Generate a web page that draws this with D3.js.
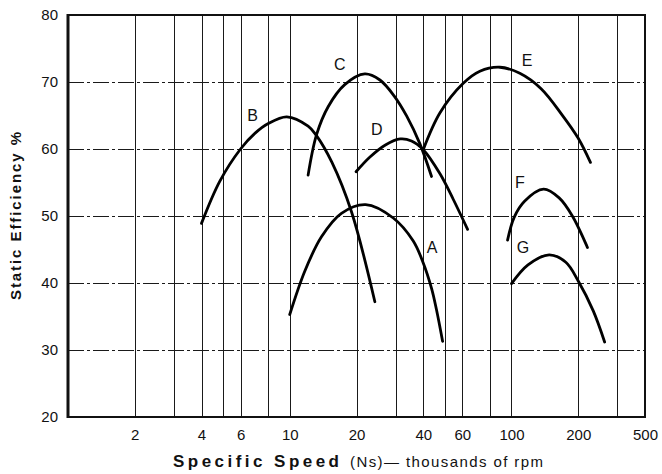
<!DOCTYPE html>
<html>
<head>
<meta charset="utf-8">
<script src="https://cdn.jsdelivr.net/npm/d3@7"></script>
<style>
  body { margin: 0; background: #fff; }
  svg { display: block; font-family: "Liberation Sans", Arial, sans-serif; }
</style>
</head>
<body>
<div id="chart"><svg></svg></div>
<script>
// fan curves, static efficiency vs specific speed
var curveNames = ["A", "B", "C", "D", "E", "F", "G"];

var speedA = [10, 11.7, 13.9, 17.1, 22, 29.3, 36, 40, 43.6, 45.9, 48.9];
var effA   = [35.3, 41.8, 46.9, 50.4, 51.7, 49.7, 46.3, 43.0, 39.2, 36.0, 31.3];

var speedB = [4.0, 4.84, 6, 7, 8, 9.7, 12.1, 13.2, 15.5, 19.0, 24.2];
var effB   = [48.9, 55.2, 60.0, 62.4, 63.8, 64.8, 63.4, 62.0, 58.0, 50.6, 37.2];

var speedC = [12.1, 13.2, 14.9, 17.7, 21.8, 25.5, 29.6, 33.7, 38.6, 43.6];
var effC   = [56.1, 62.1, 66.3, 69.6, 71.2, 70.3, 67.9, 64.9, 60.8, 55.9];

var speedD = [19.9, 23.0, 27, 31.5, 35.4, 40, 47.6, 54.6, 63.4];
var effD   = [56.6, 58.8, 60.6, 61.5, 61.2, 59.9, 56.3, 52.5, 48.0];

var speedE = [40, 47.6, 60.6, 72, 88.7, 109, 136, 169, 200, 227];
var effE   = [59.9, 65.4, 69.8, 71.6, 72.2, 71.3, 69.0, 65.1, 61.6, 58.0];

var speedF = [96, 102.8, 114.5, 139.5, 164, 189, 220];
var effF   = [46.4, 49.8, 52.2, 54.0, 52.7, 49.9, 45.3];

var speedG = [100, 118.7, 147.9, 175.8, 200, 234, 263];
var effG   = [39.9, 42.7, 44.2, 43.1, 40.3, 35.8, 31.2];

// where each letter sits (data units)
var labelSpeed = [43.8, 6.8, 16.8, 24.7, 117.5, 109, 112.7];
var labelEff   = [45.4, 65.1, 72.6, 62.9, 73.3, 55.1, 45.4];

// axes
var xMin = 1, xMax = 400;
var yMin = 20, yMax = 80;
var xTickValues = [2, 4, 6, 10, 20, 40, 60, 100, 200, 400];
var xTickLabels = ["2", "4", "6", "10", "20", "40", "60", "100", "200", "500"];
var yTickValues = [20, 30, 40, 50, 60, 70, 80];
var xGrid = [2, 3, 4, 5, 6, 8, 10, 20, 30, 40, 50, 60, 80, 100, 200, 300];
var yGrid = [30, 40, 50, 60, 70];

var xTitleBold = "Specific Speed";
var xTitleRest = "(Ns)\u2014 thousands of rpm";
var yTitle = "Static Efficiency %";

var series = [
  [speedA, effA], [speedB, effB], [speedC, effC], [speedD, effD],
  [speedE, effE], [speedF, effF], [speedG, effG]
];

var W = 662, H = 474;
var margin = {top: 15, right: 17, bottom: 57, left: 68};

var svg = d3.select("#chart svg").attr("width", W).attr("height", H);

var x = d3.scaleLog().domain([xMin, xMax]).range([margin.left, W - margin.right]);
var y = d3.scaleLinear().domain([yMin, yMax]).range([H - margin.bottom, margin.top]);

var g = svg.append("g");

// grid
g.append("g").attr("class", "vgrid")
  .selectAll("line").data(xGrid).enter().append("line")
    .attr("x1", function(d) { return Math.round(x(d)) + 0.5; })
    .attr("x2", function(d) { return Math.round(x(d)) + 0.5; })
    .attr("y1", y(yMin)).attr("y2", y(yMax))
    .style("stroke", "#1a1a1a").style("stroke-width", 1)
    .style("shape-rendering", "crispEdges");

g.append("g").attr("class", "hgrid")
  .selectAll("line").data(yGrid).enter().append("line")
    .attr("x1", x(xMin)).attr("x2", x(xMax))
    .attr("y1", function(d) { return Math.round(y(d)) + 0.5; })
    .attr("y2", function(d) { return Math.round(y(d)) + 0.5; })
    .style("stroke", "#1a1a1a").style("stroke-width", 1)
    .style("stroke-dasharray", "16,3,3,3")
    .style("shape-rendering", "crispEdges");

// frame
g.append("rect")
  .attr("x", x(xMin)).attr("y", y(yMax))
  .attr("width", x(xMax) - x(xMin)).attr("height", y(yMin) - y(yMax))
  .style("fill", "none").style("stroke", "#111").style("stroke-width", 2);
g.append("line")
  .attr("x1", x(xMin)).attr("x2", x(xMin)).attr("y1", y(yMax) - 1).attr("y2", y(yMin) + 1)
  .style("stroke", "#111").style("stroke-width", 3);

// axes (labels only)
var xAxis = d3.axisBottom(x).tickValues(xTickValues).tickSize(0).tickPadding(12)
  .tickFormat(function(d, i) { return xTickLabels[i]; });
var yAxis = d3.axisLeft(y).tickValues(yTickValues).tickSize(0).tickPadding(10)
  .tickFormat(d3.format("d"));

var gx = svg.append("g").attr("transform", "translate(0," + y(yMin) + ")").call(xAxis);
var gy = svg.append("g").attr("transform", "translate(" + x(xMin) + ",0)").call(yAxis);
[gx, gy].forEach(function(a) {
  a.select(".domain").remove();
  a.selectAll("text")
    .style("font-family", "'Liberation Sans', Arial, sans-serif")
    .style("font-size", "15px").style("fill", "#111");
});

// curves
var line = d3.line()
  .x(function(d) { return x(d[0]); })
  .y(function(d) { return y(d[1]); })
  .curve(d3.curveCatmullRom.alpha(0.5));

g.append("g").attr("class", "curves")
  .selectAll("path").data(series).enter().append("path")
    .attr("d", function(s) { return line(d3.zip(s[0], s[1])); })
    .style("fill", "none").style("stroke", "#000")
    .style("stroke-width", 2.8).style("stroke-linecap", "round");

g.append("g").attr("class", "names")
  .selectAll("text").data(curveNames).enter().append("text")
    .attr("x", function(d, i) { return x(labelSpeed[i]); })
    .attr("y", function(d, i) { return y(labelEff[i]); })
    .attr("text-anchor", "middle").attr("dy", "0.36em")
    .style("font-size", "16px").style("fill", "#111")
    .text(function(d) { return d; });

// titles
var xt = svg.append("text")
  .attr("x", 173).attr("y", 467)
  .style("font-size", "17px").style("fill", "#111");
xt.append("tspan").style("font-weight", "bold")
  .attr("textLength", 166).attr("lengthAdjust", "spacing").text(xTitleBold);
xt.append("tspan").attr("x", 350)
  .attr("textLength", 193).attr("lengthAdjust", "spacing")
  .style("font-size", "15px").text(xTitleRest);

svg.append("text")
  .attr("transform", "translate(21," + ((y(yMin) + y(yMax)) / 2) + ") rotate(-90)")
  .attr("text-anchor", "middle")
  .attr("textLength", 168).attr("lengthAdjust", "spacing")
  .style("font-size", "15px").style("font-weight", "bold").style("fill", "#111")
  .text(yTitle);
</script>
</body>
</html>
